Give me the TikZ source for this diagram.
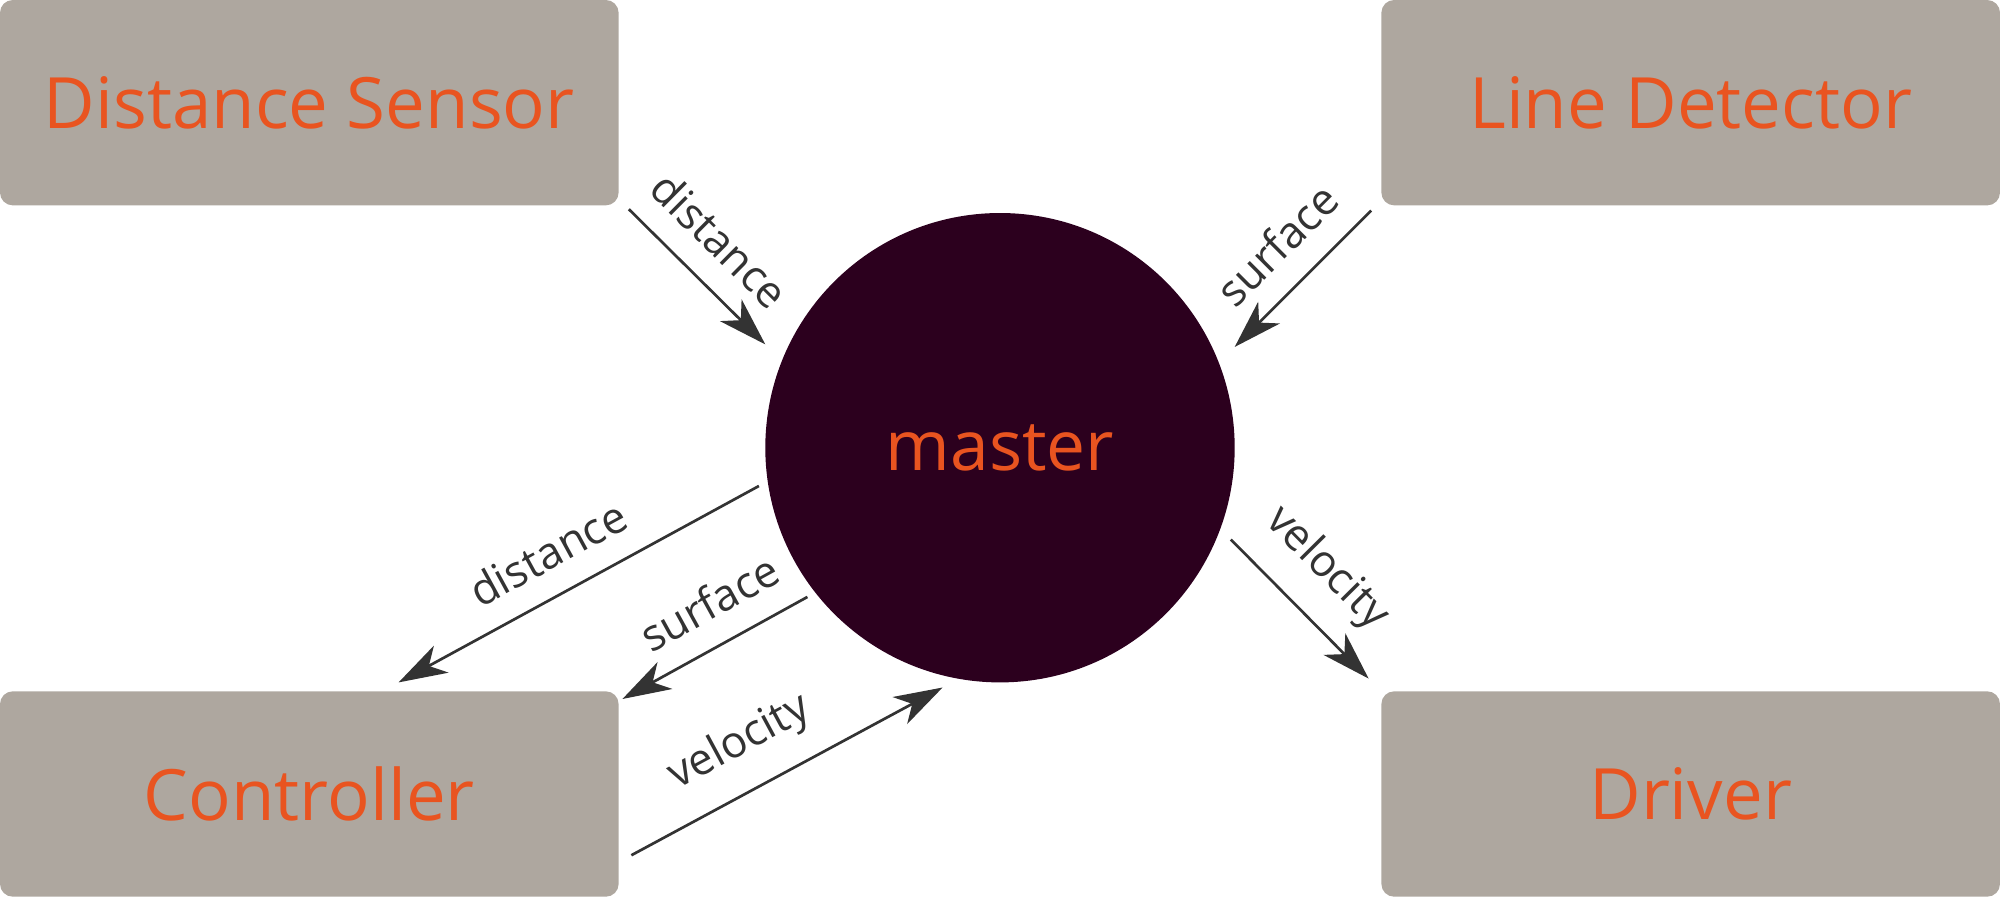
\documentclass[tikz,border=0pt]{standalone}
\usepackage{fontspec}
\setmainfont{Open Sans}
\usetikzlibrary{arrows.meta,calc}
\definecolor{boxgrey}{HTML}{AEA79F}
\definecolor{uorange}{HTML}{E95420}
\definecolor{aubergine}{HTML}{2C001E}
\definecolor{arrowgrey}{HTML}{333333}
\begin{document}
\begin{tikzpicture}[x=0.1mm,y=-0.1mm,
  box/.style={fill=boxgrey, rounded corners=1mm, minimum width=48.5mm, minimum height=16.1mm,
    inner sep=0pt, outer sep=0pt, text=uorange, font=\fontsize{15.8}{18}\selectfont},
  hub/.style={circle, fill=aubergine, minimum size=36.8mm, inner sep=0pt, outer sep=0pt,
    text=uorange, font=\fontsize{15.5}{18}\selectfont},
  arr/.style={draw=arrowgrey, line width=0.6pt, -{Stealth[length=3.8mm,width=2.4mm,inset=1.1mm]}},
  lbl/.style={sloped, above=1.9mm, inner sep=0pt, text=arrowgrey, font=\fontsize{9.8}{11}\selectfont}
]
\useasboundingbox (0,0) rectangle (1568,703);
\node[box, anchor=north west] (ds) at (0,0) {Distance Sensor};
\node[box, anchor=north east] (ld) at (1568,0) {Line Detector};
\node[box, anchor=south west] (ctrl) at (0,703) {Controller};
\node[box, anchor=south east] (drv) at (1568,703) {Driver};
\node[hub] (master) at (784,351) {master};

\draw[arr] ([shift={(8,3)}]ds.south east) -- node[pos=0.45, lbl] {distance} ([shift={(-184,-81)}]master.center);
\draw[arr] ([shift={(-8,4)}]ld.south west) -- node[pos=0.47, lbl] {surface} ([shift={(184,-79)}]master.center);
\draw[arr] ([shift={(-189,30)}]master.center) -- node[pos=0.53, lbl] {distance} ([shift={(70,-7)}]ctrl.north);
\draw[arr] ([shift={(-151,117)}]master.center) -- node[pos=0.42, lbl] {surface} ([shift={(3,6)}]ctrl.north east);
\draw[arr] ([shift={(10,48)}]ctrl.east) -- node[pos=0.42, lbl] {velocity} ([shift={(-45,188)}]master.center);
\draw[arr] ([shift={(181,72)}]master.center) -- node[pos=0.45, lbl] {velocity} ([shift={(-10,-10)}]drv.north west);
\end{tikzpicture}
\end{document}
